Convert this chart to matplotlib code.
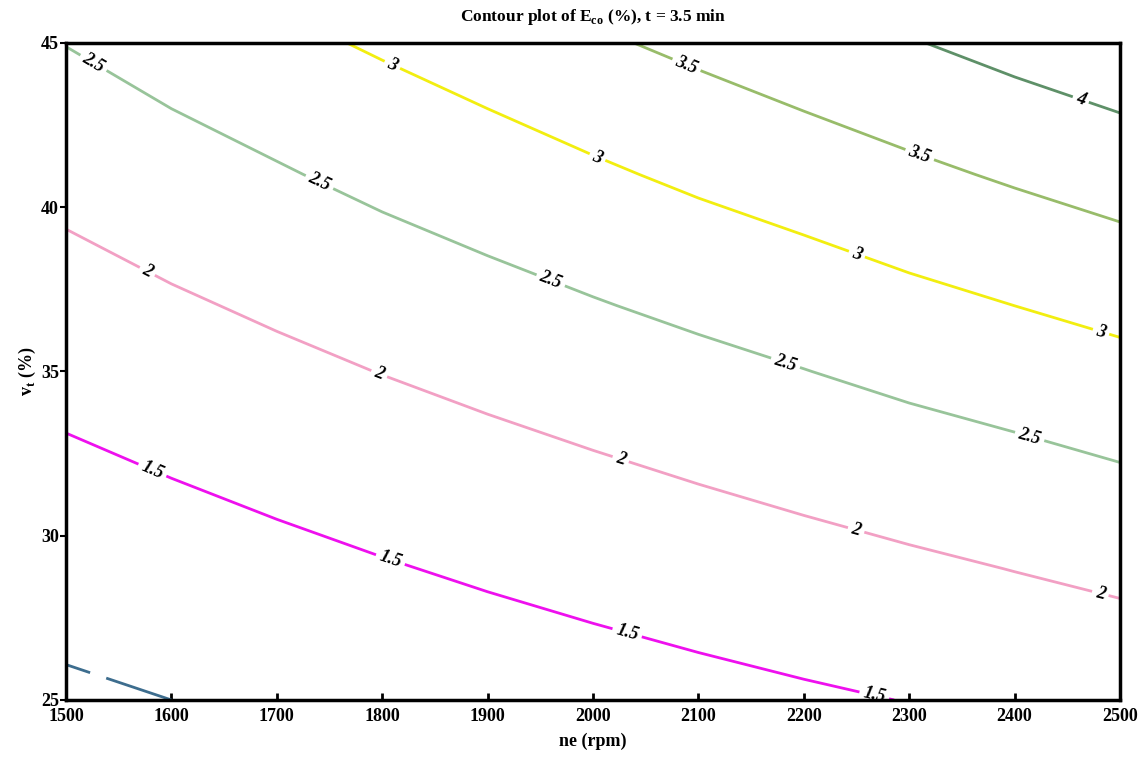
import numpy as np
import matplotlib
matplotlib.use("Agg")
import matplotlib.pyplot as plt

# grid: engine speed (rpm) x volume fraction (%)
ne_rpm = [1500, 1600, 1700, 1800, 1900, 2000, 2100, 2200, 2300, 2400, 2500]
vt_pct = [25, 27, 29, 31, 33, 35, 37, 39, 41, 43, 45]

# E_co (%) estimated at each grid node, one row per vt value
e_co = [
    [0.93, 1.00, 1.08, 1.15, 1.22, 1.30, 1.37, 1.44, 1.51, 1.59, 1.66],
    [1.06, 1.14, 1.22, 1.31, 1.39, 1.47, 1.55, 1.63, 1.71, 1.80, 1.88],
    [1.20, 1.29, 1.38, 1.47, 1.56, 1.65, 1.74, 1.83, 1.92, 2.01, 2.10],
    [1.34, 1.44, 1.54, 1.64, 1.74, 1.84, 1.94, 2.04, 2.14, 2.24, 2.34],
    [1.49, 1.60, 1.71, 1.82, 1.93, 2.04, 2.15, 2.26, 2.37, 2.48, 2.60],
    [1.65, 1.77, 1.89, 2.01, 2.13, 2.25, 2.37, 2.49, 2.62, 2.74, 2.86],
    [1.81, 1.94, 2.07, 2.20, 2.34, 2.47, 2.60, 2.73, 2.87, 3.00, 3.13],
    [1.97, 2.12, 2.26, 2.41, 2.55, 2.69, 2.84, 2.98, 3.13, 3.27, 3.42],
    [2.15, 2.30, 2.46, 2.62, 2.77, 2.93, 3.09, 3.24, 3.40, 3.56, 3.71],
    [2.33, 2.50, 2.66, 2.83, 3.00, 3.17, 3.34, 3.51, 3.68, 3.85, 4.02],
    [2.51, 2.69, 2.88, 3.06, 3.24, 3.43, 3.61, 3.79, 3.97, 4.16, 4.34],
]

levels = [1, 1.5, 2, 2.5, 3, 3.5, 4]
level_colors = ["#3d6d8e", "#ee10ee", "#f2a0c4", "#98c49a", "#f2ee10",
                "#98bc6a", "#5e9068"]

plt.rcParams["font.family"] = ["Liberation Serif", "DejaVu Serif"]
plt.rcParams["font.weight"] = "bold"
plt.rcParams["axes.titleweight"] = "bold"
plt.rcParams["axes.labelweight"] = "bold"

fig = plt.figure(figsize=(11.46, 7.61), dpi=100)
ax = fig.add_axes([0.0576, 0.0802, 0.9197, 0.8633])

X, Y = np.meshgrid(ne_rpm, vt_pct)
cs = ax.contour(X, Y, np.array(e_co), levels=levels, colors=level_colors,
                linewidths=2.0)

label_spots = [
    (1530, 25.7),
    (1582, 32.0), (1807, 29.2), (2032, 27.0), (2268, 25.3),
    (1578, 38.1), (1798, 35.0), (2026, 32.3), (2249, 30.1), (2481, 28.2),
    (1528, 44.5), (1741, 40.8), (1959, 37.7), (2182, 35.2), (2415, 33.1),
    (1812, 44.5), (2002, 41.35), (2249, 38.45), (2481, 36.1),
    (2087, 44.2), (2310, 41.6),
    (2462, 43.2),
]
txts = ax.clabel(cs, manual=label_spots, fmt="%g",
                 inline=True, inline_spacing=4, fontsize=13, colors="black")
for t in txts:
    t.set_fontstyle("italic")
    t.set_fontweight("bold")
    # the "1" label is cut off in the original, only its gap shows
    if t.get_text() == "1":
        t.set_visible(False)

ax.set_xlim(1500, 2500)
ax.set_ylim(25, 45)
ax.set_xticks(range(1500, 2501, 100))
ax.set_yticks([25, 30, 35, 40, 45])
ax.tick_params(axis="x", direction="in", length=5, width=2, labelsize=13, pad=6)
ax.tick_params(axis="y", direction="out", length=4, width=1.5, labelsize=13, pad=1)
for sp in ax.spines.values():
    sp.set_linewidth(2.5)

ax.set_xlabel("ne (rpm)", fontsize=13, labelpad=5)
ax.set_ylabel(r"v$_\mathregular{t}$ (%)", fontsize=13, labelpad=2)
ax.set_title(r"Contour plot of E$_\mathregular{co}$ (%), t = 3.5 min",
             fontsize=12.5, pad=16)

fig.savefig("out.png", dpi=100)
